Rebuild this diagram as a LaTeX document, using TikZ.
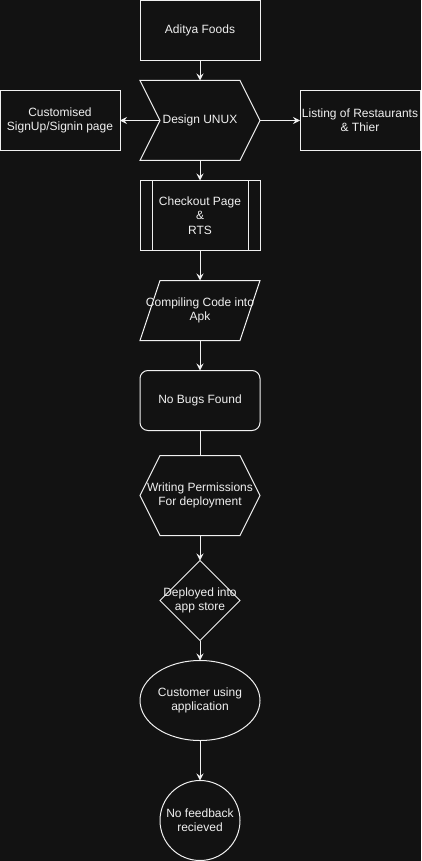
\documentclass[tikz,border=0pt]{standalone}
\usepackage{fontspec}
\setmainfont{Liberation Sans}
\usetikzlibrary{arrows.meta, positioning, calc}
\definecolor{cBack}{RGB}{18, 18, 18}
\definecolor{cLine}{RGB}{240, 240, 240}

\begin{document}
\begin{tikzpicture}[
    x=1pt, y=-1pt,
    font=\fontsize{12pt}{14.4pt}\selectfont,
    >={Stealth[length=7pt, width=7pt, inset=2.5pt]},
    base/.style={
        minimum width=120pt,
        minimum height=60pt,
        inner sep=0pt,
        outer sep=0pt,
        align=center,
        text=cLine
    },
    block/.style={base, draw=cLine, line width=1pt},
    outline/.style={draw=cLine, line width=1pt},
    arrow/.style={->, line width=1pt, color=cLine}
]

\fill[cBack] (0,0) rectangle (421,861);
\useasboundingbox (0,0) rectangle (421,861);

\node[block] (aditya) at (200, 30.5) {Aditya Foods};

% step shape
\node[base, minimum height=80pt, below=20pt of aditya] (unux) {Design UNUX};
\draw[outline] (unux.north west) -- ([xshift=-20pt]unux.north east) -- (unux.east)
    -- ([xshift=-20pt]unux.south east) -- (unux.south west) -- ([xshift=20pt]unux.west) -- cycle;
\coordinate (unuxin) at ([xshift=20pt]unux.west);

\node[block, left=20pt of unux] (signup) {Customised\\SignUp/Signin page};
\node[block, right=40pt of unux] (listing) {Listing of Restaurants\\\& Thier};

% process box
\node[block, minimum height=70pt, below=20pt of unux] (checkout) {Checkout Page\\\&\\RTS};
\draw[outline] ([xshift=12pt]checkout.north west) -- ([xshift=12pt]checkout.south west);
\draw[outline] ([xshift=-12pt]checkout.north east) -- ([xshift=-12pt]checkout.south east);

% parallelogram
\node[base, below=30pt of checkout] (apk) {Compiling Code into\\Apk};
\draw[outline] ([xshift=20pt]apk.north west) -- (apk.north east)
    -- ([xshift=-20pt]apk.south east) -- (apk.south west) -- cycle;

\node[block, rounded corners=8pt, below=30pt of apk] (bugs) {No Bugs Found};

% hexagon
\node[base, minimum height=80pt, below=25pt of bugs] (perm) {Writing Permissions\\For deployment};
\draw[outline] ([xshift=20pt]perm.north west) -- ([xshift=-20pt]perm.north east) -- (perm.east)
    -- ([xshift=-20pt]perm.south east) -- ([xshift=20pt]perm.south west) -- (perm.west) -- cycle;

% diamond
\node[base, minimum width=80pt, minimum height=80pt, below=25pt of perm] (store) {Deployed into\\app store};
\draw[outline] (store.north) -- (store.east) -- (store.south) -- (store.west) -- cycle;

\node[base, minimum height=80pt, below=20pt of store] (user) {Customer using\\application};
\draw[outline] (user.center) ellipse [x radius=60pt, y radius=40pt];

\node[base, minimum width=80pt, minimum height=80pt, below=40pt of user] (feedback) {No feedback\\recieved};
\draw[outline] (feedback.center) circle [radius=40pt];

\draw[arrow] (aditya) -- (unux);
\draw[arrow] (unuxin) -- (signup);
\draw[arrow] (unux) -- (listing);
\draw[arrow] (unux) -- (checkout);
\draw[arrow] (checkout) -- (apk);
\draw[arrow] (apk) -- (bugs);
\draw[line width=1pt, color=cLine] (bugs) -- (perm);
\draw[arrow] (perm) -- (store);
\draw[arrow] (store) -- (user);
\draw[arrow] (user) -- (feedback);

\end{tikzpicture}
\end{document}
